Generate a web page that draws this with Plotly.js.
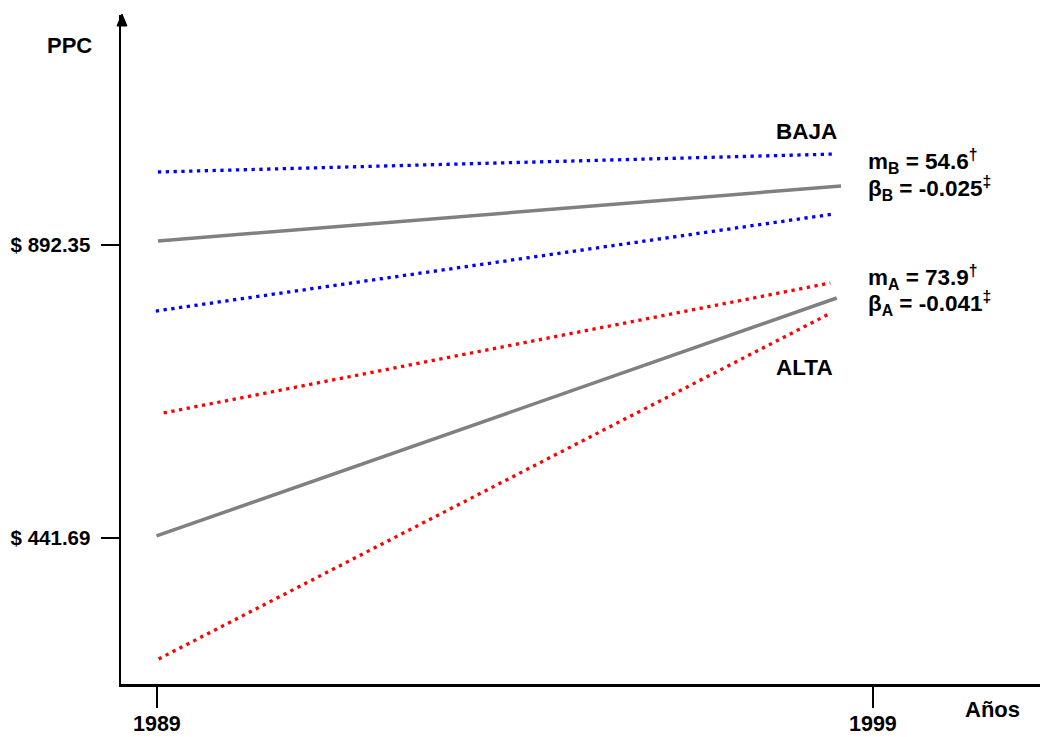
<!DOCTYPE html>
<html>
<head>
<meta charset="utf-8">
<script src="https://cdn.plot.ly/plotly-3.0.1.min.js"></script>
<style>html,body{margin:0;padding:0;background:#fff;}#chart{width:1040px;height:737px;}</style>
</head>
<body>
<div id="chart"></div>
<script>
// ---- data (years on x, PPC on y) ----
var bajaYears = [1989.02, 1998.56];
var bajaPPC = [898.5, 983.1];
var bajaUpperYears = [1989.02, 1998.49];
var bajaUpperPPC = [1004.6, 1032.3];
var bajaLowerYears = [1988.99, 1998.46];
var bajaLowerPPC = [790.8, 940.0];

var altaYears = [1989.0, 1998.50];
var altaPPC = [444.8, 810.8];
var altaUpperYears = [1989.10, 1998.41];
var altaUpperPPC = [634.0, 833.9];
var altaLowerYears = [1989.03, 1998.42];
var altaLowerPPC = [255.6, 787.8];

var xTickVals = [1989, 1999];
var xTickText = ["1989", "1999"];
var yTickVals = [441.69, 892.35];
var yTickText = ["$ 441.69", "$ 892.35"];

var groupLabels = ["BAJA", "ALTA"];
var statsB = ["m<sub>B</sub> = 54.6<sup>†</sup>", "β<sub>B</sub> = -0.025<sup>‡</sup>"];
var statsA = ["m<sub>A</sub> = 73.9<sup>†</sup>", "β<sub>A</sub> = -0.041<sup>‡</sup>"];

// ---- layout helpers ----
var W = 1040, H = 737, L = 121, R = 0, T = 15, B = 53;
function px(x){ return (x - L) / (W - L - R); }
function py(y){ return (H - B - y) / (H - T - B); }

var FONT = "Liberation Sans, Arial, sans-serif";
var dotDash = "3.3px,4.5px";

function line(xs, ys, color, width, dash){
  return {x: xs, y: ys, mode: "lines", type: "scatter", hoverinfo: "skip",
    line: {color: color, width: width, dash: dash}};
}

var traces = [
  line(bajaUpperYears, bajaUpperPPC, "#0000ff", 3.3, dotDash),
  line(bajaLowerYears, bajaLowerPPC, "#0000ff", 3.3, dotDash),
  line(altaUpperYears, altaUpperPPC, "#ff0000", 3.3, dotDash),
  line(altaLowerYears, altaLowerPPC, "#ff0000", 3.3, dotDash),
  line(bajaYears, bajaPPC, "#808080", 3.5, "solid"),
  line(altaYears, altaPPC, "#808080", 3.5, "solid")
];

function ann(text, x, y, size, xanchor){
  return {text: text, xref: "paper", yref: "paper", x: px(x), y: py(y),
    xanchor: xanchor || "left", yanchor: "middle", showarrow: false,
    font: {family: FONT, size: size, color: "#000", weight: "bold"}};
}

var annotations = [
  ann("PPC", 45, 45, 22),
  ann("Años", 963, 709, 22),
  ann(groupLabels[0], 774, 131, 22.5),
  ann(groupLabels[1], 774, 367, 22.5),
  ann(statsB[0], 866, 162, 22.5),
  ann(statsB[1], 866, 189, 22.5),
  ann(statsA[0], 866, 277, 22.5),
  ann(statsA[1], 866, 303, 22.5)
];
// x tick labels placed at their data positions
xTickVals.forEach(function(v, i){
  annotations.push({text: xTickText[i], xref: "x", yref: "paper", x: v, y: py(724),
    xanchor: "center", yanchor: "middle", showarrow: false,
    font: {family: FONT, size: 21.5, color: "#000", weight: "bold"}});
});

var layout = {
  width: W, height: H,
  margin: {l: L, r: R, t: T, b: B, pad: 0},
  paper_bgcolor: "#fff", plot_bgcolor: "#fff",
  showlegend: false,
  xaxis: {
    range: [1988.504, 2001.339], showgrid: false, zeroline: false,
    showline: true, linecolor: "#000", linewidth: 2.5,
    tickmode: "array", tickvals: xTickVals, ticktext: xTickText,
    ticks: "outside", ticklen: 21, tickwidth: 2, tickcolor: "#000",
    showticklabels: false,
    fixedrange: true
  },
  yaxis: {
    range: [217.1, 1246.1], showgrid: false, zeroline: false,
    showline: true, linecolor: "#000", linewidth: 2.5,
    tickmode: "array", tickvals: yTickVals, ticktext: yTickText,
    ticks: "outside", ticklen: 18, tickwidth: 2, tickcolor: "#000",
    ticklabelstandoff: 6,
    tickfont: {family: FONT, size: 20.5, color: "#000", weight: "bold"},
    fixedrange: true
  },
  shapes: [
    {type: "path", xref: "paper", yref: "paper",
     path: "M " + px(117) + "," + py(26) + " L " + px(122) + "," + py(14) + " L " + px(127) + "," + py(26) + " Z",
     fillcolor: "#000", line: {color: "#000", width: 1}}
  ],
  annotations: annotations
};

Plotly.newPlot("chart", traces, layout, {displayModeBar: false, staticPlot: true});
</script>
</body>
</html>
